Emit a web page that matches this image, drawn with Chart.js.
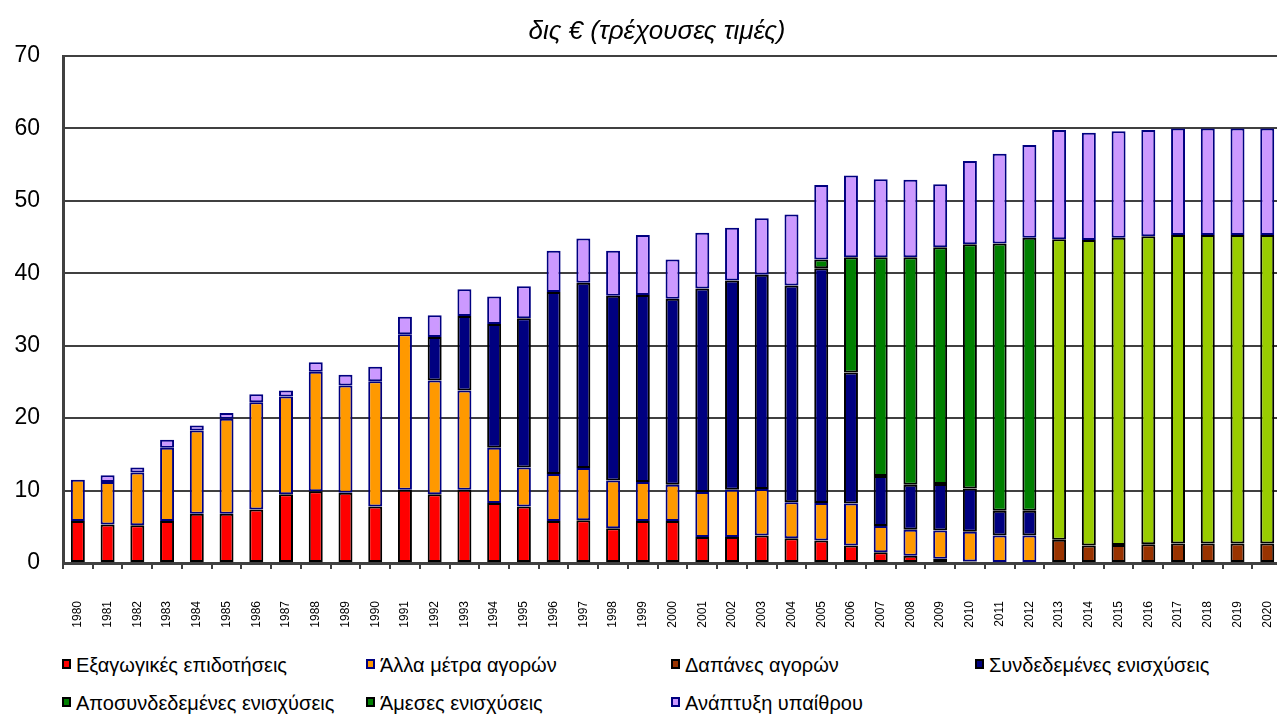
<!DOCTYPE html>
<html lang="el">
<head>
<meta charset="utf-8">
<title>Δαπάνες ΚΑΠ</title>
<script src="https://cdn.jsdelivr.net/npm/chart.js@4.4.1/dist/chart.umd.min.js"></script>
<style>
    html, body { margin: 0; padding: 0; background: #fff; overflow: hidden; }
    #wrap { position: relative; width: 1277px; height: 715px; overflow: hidden; }
    #chart { position: absolute; left: 0; top: 0; }
    #title {
        position: absolute;
        left: 457px;
        width: 400px;
        top: 14px;
        text-align: center;
        font-family: Arial, "Liberation Sans", sans-serif;
        font-style: italic;
        font-size: 26px;
        line-height: 32px;
        color: #000;
        white-space: nowrap;
    }
    .legend-item {
        position: absolute;
        font-family: Arial, "Liberation Sans", sans-serif;
        font-size: 20px;
        color: #000;
        white-space: nowrap;
        line-height: 24px;
    }
    .legend-item i {
        display: inline-block;
        width: 5px;
        height: 6px;
        border: 2px solid #000;
        margin-right: 5px;
        vertical-align: 3px;
    }
</style>
</head>
<body>
<div id="wrap">
    <canvas id="chart" width="1314" height="640"></canvas>
    <div id="title">δις € (τρέχουσες τιμές)</div>
    <div id="legend"></div>
</div>
<script>
// --- Données (δις €, τρέχουσες τιμές) ---
const years = ['1980', '1981', '1982', '1983', '1984', '1985', '1986', '1987', '1988', '1989',
    '1990', '1991', '1992', '1993', '1994', '1995', '1996', '1997', '1998', '1999',
    '2000', '2001', '2002', '2003', '2004', '2005', '2006', '2007', '2008', '2009',
    '2010', '2011', '2012', '2013', '2014', '2015', '2016', '2017', '2018', '2019', '2020'];

const seriesNames = ['Εξαγωγικές επιδοτήσεις', 'Άλλα μέτρα αγορών', 'Δαπάνες αγορών',
    'Συνδεδεμένες ενισχύσεις', 'Αποσυνδεδεμένες ενισχύσεις', 'Άμεσες ενισχύσεις', 'Ανάπτυξη υπαίθρου'];

const exportSubsidies = [5.8, 5.3, 5.2, 5.8, 6.8, 6.8, 7.4, 9.5, 9.9, 9.7,
    7.8, 10.1, 9.5, 10.1, 8.3, 7.8, 5.8, 5.9, 4.8, 5.8,
    5.8, 3.6, 3.6, 3.8, 3.4, 3.1, 2.4, 1.5, 1.0, 0.6,
    0.2, null, null, null, null, null, null, null, null, null, null];

const otherMarket = [5.7, 5.9, 7.3, 10.1, 11.5, 13.1, 14.8, 13.5, 16.5, 14.8,
    17.3, 21.5, 15.7, 13.7, 7.6, 5.4, 6.5, 7.2, 6.6, 5.4,
    5.0, 6.2, 6.5, 6.4, 5.0, 5.2, 5.8, 3.6, 3.6, 3.9,
    4.1, 3.8, 3.8, null, null, null, null, null, null, null, null];

const marketSpending = [null, null, null, null, null, null, null, null, null, null,
    null, null, null, null, null, null, null, null, null, null,
    null, null, null, null, null, null, null, null, null, null,
    null, null, null, 3.2, 2.4, 2.5, 2.6, 2.7, 2.7, 2.7, 2.7];

const coupledAid = [null, null, null, null, null, null, null, null, null, null,
    null, null, 6.0, 10.3, 17.1, 20.6, 25.1, 25.6, 25.5, 25.8,
    25.7, 28.1, 28.9, 29.6, 29.9, 32.4, 18.1, 6.9, 6.2, 6.4,
    6.0, 3.4, 3.4, null, null, null, null, null, null, null, null];

const decoupledAid = [null, null, null, null, null, null, null, null, null, null,
    null, null, null, null, null, null, null, null, null, null,
    null, null, null, null, null, 1.2, 15.9, 30.2, 31.4, 32.7,
    33.7, 36.9, 37.7, null, null, null, null, null, null, null, null];

const directAid = [null, null, null, null, null, null, null, null, null, null,
    null, null, null, null, null, null, null, null, null, null,
    null, null, null, null, null, null, null, null, null, null,
    null, null, null, 41.5, 42.2, 42.4, 42.5, 42.6, 42.6, 42.6, 42.6];

const ruralDev = [null, 0.9, 0.7, 1.1, 0.7, 0.8, 1.1, 0.8, 1.3, 1.5,
    2.0, 2.4, 3.0, 3.7, 3.8, 4.4, 5.7, 6.1, 6.2, 8.3,
    5.4, 7.7, 7.3, 7.8, 9.8, 10.3, 11.3, 10.8, 10.7, 8.7,
    11.5, 12.4, 12.8, 15.1, 14.8, 14.7, 14.7, 14.7, 14.7, 14.7, 14.7];

// couleurs : remplissage, bordure, pastille de légende
const fills = ['#FF0000', '#FF9900', '#993300', '#000080', '#008000', '#99CC00', '#CC99FF'];
const borders = ['#000000', '#000080', '#000000', '#000000', '#000000', '#000000', '#000080'];
const legendFills = ['#FF0000', '#FF9900', '#993300', '#000080', '#008000', '#008000', '#CC99FF'];

function makeDataset(i, values) {
    return {
        label: seriesNames[i],
        data: values,
        backgroundColor: fills[i],
        borderColor: borders[i],
        borderWidth: 2,
        borderSkipped: false,
        barPercentage: 0.47,
        categoryPercentage: 1.0
    };
}

const font = 'Arial, "Liberation Sans", sans-serif';

new Chart(document.getElementById('chart'), {
    type: 'bar',
    data: {
        labels: years,
        datasets: [
            makeDataset(0, exportSubsidies),
            makeDataset(1, otherMarket),
            makeDataset(2, marketSpending),
            makeDataset(3, coupledAid),
            makeDataset(4, decoupledAid),
            makeDataset(5, directAid),
            makeDataset(6, ruralDev)
        ]
    },
    options: {
        responsive: false,
        animation: false,
        layout: { padding: { top: 56, right: 29, bottom: 0, left: 0 } },
        plugins: {
            legend: { display: false },
            tooltip: { enabled: false },
            title: { display: false }
        },
        scales: {
            x: {
                stacked: true,
                grid: { offset: true, drawOnChartArea: false, drawTicks: true, tickLength: 6, color: '#404040', lineWidth: 2 },
                border: { color: '#404040', width: 3 },
                ticks: {
                    autoSkip: false, maxRotation: 90, minRotation: 90, padding: 32,
                    color: '#000', font: { family: font, size: 12 }
                },
                afterFit(scale) { scale.height = 77; }
            },
            y: {
                stacked: true,
                min: 0,
                max: 70,
                ticks: { stepSize: 10, padding: 23, color: '#000', font: { family: font, size: 23 } },
                grid: { color: '#404040', lineWidth: 2, drawTicks: false },
                border: { color: '#404040', width: 3 },
                afterFit(scale) { scale.width = 63; }
            }
        }
    }
});

// --- Légende HTML (2 lignes, 4 colonnes) ---
const legendPos = [[62, 653], [366, 653], [671, 653], [975, 653], [62, 691], [366, 691], [671, 691]];
const legendEl = document.getElementById('legend');
seriesNames.forEach((name, i) => {
    const item = document.createElement('div');
    item.className = 'legend-item';
    item.style.left = legendPos[i][0] + 'px';
    item.style.top = legendPos[i][1] + 'px';
    const sw = document.createElement('i');
    sw.style.background = legendFills[i];
    sw.style.borderColor = borders[i];
    item.appendChild(sw);
    item.appendChild(document.createTextNode(name));
    legendEl.appendChild(item);
});
</script>
</body>
</html>
